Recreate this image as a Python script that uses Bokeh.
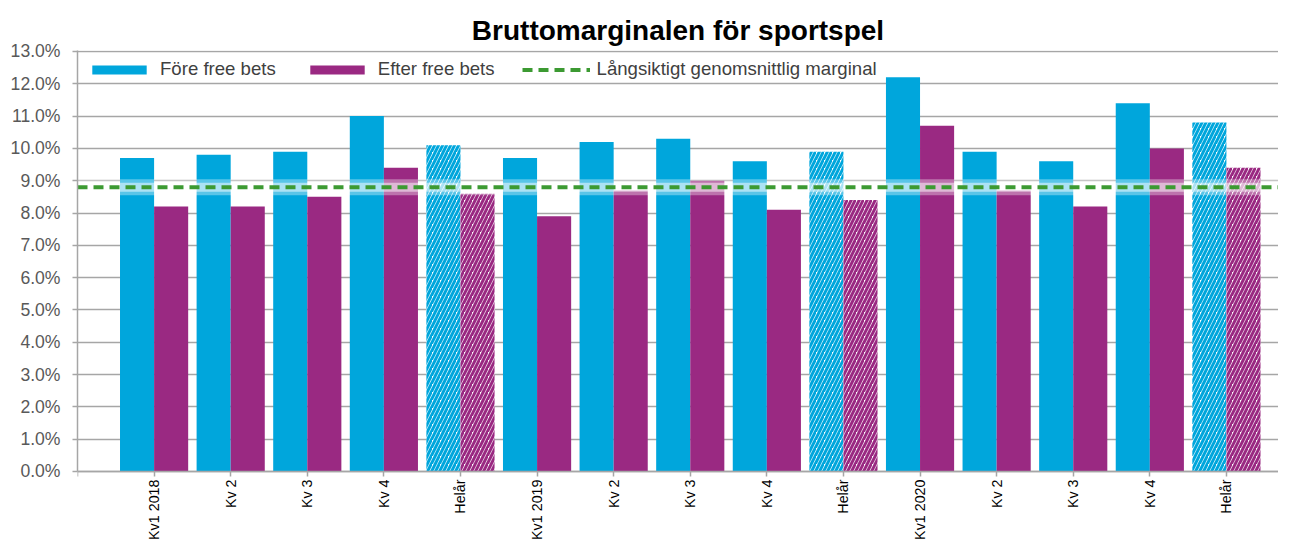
from math import pi
from bokeh.plotting import figure
from bokeh.models import (ColumnDataSource, FixedTicker, PrintfTickFormatter, Legend,
                          LegendItem, Range1d, Title)
from bokeh.embed import file_html
from bokeh.resources import INLINE

categories = ["Kv1 2018", "Kv 2", "Kv 3", "Kv 4", "Helår",
              "Kv1 2019", "Kv 2", "Kv 3", "Kv 4", "Helår",
              "Kv1 2020", "Kv 2", "Kv 3", "Kv 4", "Helår"]
fore = [9.7, 9.8, 9.9, 11.0, 10.1, 9.7, 10.2, 10.3, 9.6, 9.9, 12.2, 9.9, 9.6, 11.4, 10.8]
efter = [8.2, 8.2, 8.5, 9.4, 8.6, 7.9, 8.7, 9.0, 8.1, 8.4, 10.7, 8.7, 8.2, 10.0, 9.4]
is_full_year = [c == "Helår" for c in categories]
long_term_margin = 8.8
y_ticks = list(range(0, 14))

BLUE = "#00A6DC"
PURPLE = "#9A2982"
GREEN = "#3C9A32"
FONT = "Liberation Sans"

idx = list(range(len(categories)))
q_idx = [i for i in idx if not is_full_year[i]]
h_idx = [i for i in idx if is_full_year[i]]

X_END = 14.68
Y_START = -2.105   # room under the zero line for the category labels
Y_END = 13.03
W = 0.445
src_q = ColumnDataSource(dict(xb=[i - W / 2 for i in q_idx], xp=[i + W / 2 for i in q_idx],
                              fb=[fore[i] for i in q_idx], ef=[efter[i] for i in q_idx]))
src_h = ColumnDataSource(dict(xb=[i - W / 2 for i in h_idx], xp=[i + W / 2 for i in h_idx],
                              fb=[fore[i] for i in h_idx], ef=[efter[i] for i in h_idx]))

p = figure(width=1278, height=539, output_backend="svg", toolbar_location=None,
           x_range=Range1d(-1, X_END), y_range=Range1d(Y_START, Y_END),
           min_border_left=77, min_border_right=0, min_border_top=50, min_border_bottom=0)
p.outline_line_color = None
p.background_fill_color = "white"
p.border_fill_color = "white"

t = Title(text="Bruttomarginalen för sportspel", align="center",
          text_font=FONT, text_font_size="28px", text_font_style="bold",
          text_color="#000000", offset=16)
p.add_layout(t, "above")

r_fb = p.vbar(x="xb", top="fb", width=W, source=src_q, fill_color=BLUE, line_color=None)
r_ef = p.vbar(x="xp", top="ef", width=W, source=src_q, fill_color=PURPLE, line_color=None)
p.vbar(x="xb", top="fb", width=W, source=src_h, fill_color="white", line_color=None,
       hatch_pattern="/", hatch_color=BLUE, hatch_scale=8, hatch_weight=3)
p.vbar(x="xp", top="ef", width=W, source=src_h, fill_color="white", line_color=None,
       hatch_pattern="/", hatch_color=PURPLE, hatch_scale=8, hatch_weight=3)

# glow + dashed long-term line
p.line(x=[-1, X_END], y=[long_term_margin, long_term_margin], line_color="white",
       line_alpha=0.35, line_width=16)
p.line(x=[-1, X_END], y=[long_term_margin, long_term_margin], line_color="white",
       line_alpha=0.5, line_width=9)
r_line = p.line(x=[-1, X_END], y=[long_term_margin, long_term_margin], line_color=GREEN,
                line_width=4, line_dash="10 6")

# axes
p.yaxis.ticker = FixedTicker(ticks=y_ticks)
p.yaxis.bounds = (0, Y_END)
p.yaxis.formatter = PrintfTickFormatter(format="%.1f%%")
p.yaxis.major_label_text_font = FONT
p.yaxis.major_label_text_font_size = "17.6px"
p.yaxis.major_label_text_color = "#595959"
p.yaxis.axis_line_color = "#a6a6a6"
p.yaxis.axis_line_width = 1.5
p.yaxis.major_tick_line_color = "#a6a6a6"
p.yaxis.major_tick_line_width = 1.5
p.yaxis.major_tick_out = 5
p.yaxis.major_tick_in = 0
p.yaxis.minor_tick_line_color = None
p.yaxis.major_label_standoff = 12

p.xaxis.fixed_location = 0
p.xaxis.ticker = FixedTicker(ticks=[-1] + idx)
p.xaxis.major_label_overrides = {-1: "", **{i: categories[i] for i in idx}}
p.xaxis.major_label_orientation = pi / 2
p.xaxis.major_label_text_font = FONT
p.xaxis.major_label_text_font_size = "14.3px"
p.xaxis.major_label_text_color = "#000000"
p.xaxis.major_label_standoff = 3
p.xaxis.axis_line_color = "#a6a6a6"
p.xaxis.axis_line_width = 1.5
p.xaxis.major_tick_line_color = "#a6a6a6"
p.xaxis.major_tick_line_width = 1.5
p.xaxis.major_tick_out = 5
p.xaxis.major_tick_in = 0
p.xaxis.minor_tick_line_color = None

p.xgrid.grid_line_color = None
p.ygrid.grid_line_color = "#a6a6a6"
p.ygrid.grid_line_width = 1.5

legend = Legend(items=[LegendItem(label="Före free bets", renderers=[r_fb]),
                       LegendItem(label="Efter free bets", renderers=[r_ef]),
                       LegendItem(label="Långsiktigt genomsnittlig marginal", renderers=[r_line])],
                orientation="horizontal", location="top_left",
                label_text_font=FONT, label_text_font_size="18.6px",
                label_text_color="#404040", glyph_width=68, glyph_height=11,
                spacing=27, padding=2, margin=8, border_line_color=None,
                background_fill_alpha=0, label_standoff=7)
p.add_layout(legend)

open("out.html", "w").write(file_html(p, INLINE))
